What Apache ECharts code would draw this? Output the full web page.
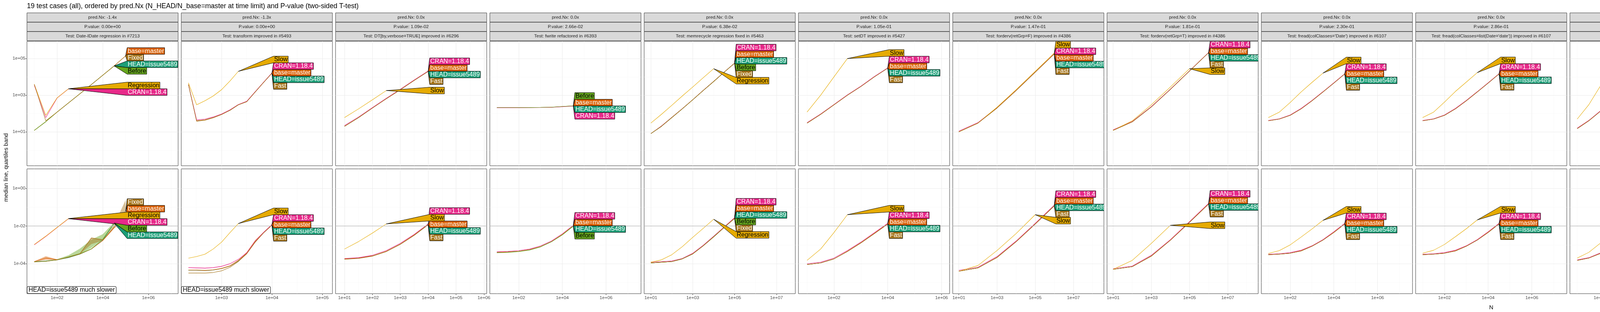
<!DOCTYPE html>
<html>
<head>
<meta charset="utf-8">
<title>atime test cases</title>
<script src="https://cdn.jsdelivr.net/npm/echarts@6.0.0/dist/echarts.min.js"></script>
<style>
html, body { margin: 0; padding: 0; background: #fff; }
#container { width: 7600px; height: 800px; }
</style>
</head>
<body>
<div id="container"></div>
<script>
var chartTitle = '19 test cases (all), ordered by pred.Nx (N_HEAD/N_base=master at time limit) and P-value (two-sided T-test)';
var yAxisTitle = 'median line, quartiles band';
var xAxisTitle = 'N';
var unitNames = ['kilobytes', 'seconds'];
var slowNote = 'HEAD=issue5489 much slower';
var slowPanels = [0, 1];

var testNames = [
  'Date-IDate regression in #7213', 'transform improved in #5493', 'DT[by,verbose=TRUE] improved in #6296',
  'fwrite refactored in #6393', 'memrecycle regression fixed in #5463', 'setDT improved in #5427',
  'forderv(retGrp=F) improved in #4386', 'forderv(retGrp=T) improved in #4386',
  "fread(colClasses='Date') improved in #6107", "fread(colClasses=list(Date='date')) improved in #6107",
  'melt improved in #5054', 'DT[by] max regression fixed in #7022', 'DT[by] fixed in #4558',
  'DT[,.SD] improved in #4501', 'as.data.table.array improved in #7019', 'shallow regression fixed in #4440',
  "fread(select=list(Date='date')) improved in #6107", 'isoweek improved in #7144', 'fread disk overhead improved in #6925'
];
var predNx = ['-1.4x', '-1.3x', '0.0x', '0.0x', '0.0x', '0.0x', '0.0x', '0.0x', '0.0x', '0.0x',
  '0.0x', '0.0x', '0.0x', '0.0x', '0.0x', '0.0x', '0.0x', '0.0x', '0.0x'];
var pValues = ['0.00e+00', '0.00e+00', '1.09e-02', '2.66e-02', '6.38e-02', '1.05e-01', '1.47e-01',
  '1.81e-01', '2.30e-01', '2.86e-01', '3.31e-01', '3.89e-01', '4.35e-01', '5.03e-01', '5.71e-01',
  '6.42e-01', '7.26e-01', '8.20e-01', '9.47e-01'];

var versionNames = ['HEAD=issue5489', 'base=master', 'CRAN=1.18.4', 'Before', 'Regression', 'Fixed', 'Slow', 'Fast'];
var versionColors = ['#1B9E77', '#D95F02', '#E7298A', '#66A61E', '#E6AB02', '#A6761D', '#E6AB02', '#A6761D'];
var versionTextColors = ['#FFFFFF', '#FFFFFF', '#FFFFFF', '#000000', '#000000', '#FFFFFF', '#000000', '#FFFFFF'];

// log10 axis ranges (already expanded like ggplot)
var yLimKb = [-0.85, 5.94];
var yLimSec = [-5.59, 1.035];
var timeLimit = 0.01;
var xLim = [[0.68, 7.30], [2.2, 5.2], [0.68, 6.1], [0.68, 7.6], [0.68, 7.9], [0.68, 6.3], [0.68, 8.6], [0.68, 8.6],
  [0.68, 7.6], [0.68, 7.6], [0.68, 7.3], [0.68, 7.9], [0.68, 7.9], [0.68, 7.3], [0.68, 7.3], [0.68, 8.2],
  [0.68, 7.6], [0.68, 7.6], [0.68, 7.3]];

var VH = ['HEAD=issue5489', 'base=master', 'CRAN=1.18.4'];
var verImproved = VH.concat(['Slow', 'Fast']);
var verRegression = VH.concat(['Before', 'Regression', 'Fixed']);

// ---- panel 1: Date-IDate regression in #7213
var n01 = [10, 32, 100, 316, 1000, 3162, 10000, 31623, 100000];
var ver01 = ['HEAD=issue5489', 'base=master', 'CRAN=1.18.4', 'Before', 'Regression', 'Fixed'];
var kb01 = [
  [12, 36, 120, 380, 1200, 3800, 12300, 40000, null],
  [12, 36, 120, 380, 1200, 3800, 12300, 40000, 140000],
  [3500, 60, 700, 2230, null, null, null, null, null],
  [12, 36, 120, 380, 1200, 3800, 12300, 39500, null],
  [4000, 80, 720, 2250, null, null, null, null, null],
  [4000, 40, 120, 380, 1200, 3800, 12300, 40000, 139000]
];
var sec01 = [
  [1.3e-4, 1.4e-4, 1.6e-4, 2.1e-4, 3.2e-4, 6.0e-4, 1.8e-3, 1.40e-2, null],
  [1.3e-4, 2.0e-4, 1.65e-4, 2.2e-4, 3.3e-4, 6.0e-4, 1.7e-3, 8.0e-3, 3.0e-2],
  [1.0e-3, 2.8e-3, 8.3e-3, 2.45e-2, null, null, null, null, null],
  [1.25e-4, 1.35e-4, 1.6e-4, 2.3e-4, 3.4e-4, 6.2e-4, 2.0e-3, 1.45e-2, null],
  [1.05e-3, 2.9e-3, 8.5e-3, 2.5e-2, null, null, null, null, null],
  [1.25e-4, 1.35e-4, 1.6e-4, 2.2e-4, 3.3e-4, 2.3e-3, 1.8e-3, 9.0e-3, 6.0e-2]
];
var band01 = [
  ['Before', [1.2e-4, 1.3e-4, 1.55e-4, 2.2e-4, 3.3e-4, 7e-4, 2.0e-3, 1.2e-2], [1.3e-4, 1.45e-4, 1.75e-4, 2.8e-4, 6.3e-4, 1.9e-3, 3.7e-3, 1.6e-2]],
  ['Fixed', [1.25e-4, 1.35e-4, 1.6e-4, 2.2e-4, 3.3e-4, 1.1e-3, 1.7e-3, 8e-3, 2.0e-2], [1.3e-4, 1.4e-4, 1.65e-4, 2.4e-4, 3.6e-4, 2.5e-3, 2.0e-3, 1.2e-2, 0.24]],
  ['base=master', [1.25e-4, 1.6e-4, 1.6e-4], [1.35e-4, 2.5e-4, 1.7e-4]]
];

// ---- panel 2: transform improved in #5493
var n02 = [220, 320, 470, 680, 1000, 1470, 2150, 3160, 4640, 6810, 10000];
var ver02 = verImproved;
var kb02 = [
  [3800, 40, 45, 60, 90, 150, 300, 450, 1500, 5000, 16000],
  [3800, 40, 45, 60, 90, 150, 300, 450, 1500, 5000, 16200],
  [3900, 45, 50, 65, 95, 160, 310, 470, 1550, 5100, 16500],
  [4700, 300, 500, 900, 2000, 6000, 20000, null, null, null, null],
  [3800, 38, 43, 58, 88, 150, 300, 440, 1480, 4900, 15800]
];
var sec02 = [
  [4.5e-5, 4.5e-5, 4.3e-5, 4.6e-5, 5.5e-5, 7.5e-5, 1.4e-4, 3.5e-4, 1.5e-3, 4.4e-3, 1.15e-2],
  [4.6e-5, 4.6e-5, 4.4e-5, 4.7e-5, 5.6e-5, 7.6e-5, 1.45e-4, 3.6e-4, 1.5e-3, 4.5e-3, 1.17e-2],
  [6.2e-5, 6.0e-5, 5.8e-5, 6.2e-5, 7.2e-5, 1.0e-4, 1.7e-4, 3.8e-4, 1.6e-3, 4.6e-3, 1.2e-2],
  [1.96e-4, 2.4e-4, 3.2e-4, 6.0e-4, 1.4e-3, 4.5e-3, 1.35e-2, null, null, null, null],
  [3.2e-5, 3.2e-5, 3.2e-5, 3.4e-5, 4.2e-5, 6.5e-5, 1.3e-4, 3.4e-4, 1.4e-3, 4.3e-3, 1.1e-2]
];
var band02 = [
  ['base=master', [4.4e-5, 4.4e-5, 4.2e-5, 4.5e-5, 5.3e-5, 7.2e-5, 1.3e-4, 3.2e-4, 1.3e-3, 4.2e-3, 1.1e-2], [4.8e-5, 4.8e-5, 4.6e-5, 4.9e-5, 5.9e-5, 8.2e-5, 1.6e-4, 4.2e-4, 1.8e-3, 4.8e-3, 1.25e-2]],
  ['CRAN=1.18.4', [6.0e-5, 5.8e-5, 5.6e-5, 6.0e-5, 7.0e-5, 9.6e-5], [6.5e-5, 6.3e-5, 6.1e-5, 6.5e-5, 7.6e-5, 1.05e-4]]
];

// ---- panel 3: DT[by,verbose=TRUE] improved in #6296
var n03 = [10, 32, 100, 316, 1000, 3162, 10000];
var ver03 = verImproved;
var kb03 = [
  [20, 60, 200, 650, 2000, 6500, 20000],
  [20, 60, 200, 650, 2000, 6500, 20500],
  [22, 65, 210, 680, 2100, 6800, 21000],
  [60, 180, 560, 1800, null, null, null],
  [20, 60, 198, 640, 1980, 6400, 19800]
];
var sec03 = [
  [1.8e-4, 2.0e-4, 2.6e-4, 4.5e-4, 1.1e-3, 3.3e-3, 1.2e-2],
  [1.8e-4, 2.0e-4, 2.6e-4, 4.6e-4, 1.1e-3, 3.4e-3, 1.25e-2],
  [1.9e-4, 2.1e-4, 2.8e-4, 5.0e-4, 1.2e-3, 3.6e-3, 1.3e-2],
  [6.0e-4, 1.5e-3, 4.2e-3, 1.3e-2, null, null, null],
  [1.7e-4, 1.9e-4, 2.5e-4, 4.4e-4, 1.05e-3, 3.2e-3, 1.15e-2]
];

// ---- panel 4: fwrite refactored in #6393
var n04 = [10, 32, 100, 316, 1000, 3162, 10000, 31623];
var ver04 = VH.concat(['Before']);
var kb04 = [
  [210, 210, 210, 212, 215, 220, 240, 260],
  [210, 210, 210, 212, 215, 221, 241, 262],
  [205, 206, 207, 209, 212, 218, 236, 255],
  [212, 212, 213, 214, 217, 223, 243, 265]
];
var sec04 = [
  [4.0e-4, 4.2e-4, 4.6e-4, 5.5e-4, 8.0e-4, 1.5e-3, 3.5e-3, 1.0e-2],
  [4.0e-4, 4.2e-4, 4.6e-4, 5.6e-4, 8.1e-4, 1.5e-3, 3.6e-3, 1.05e-2],
  [4.3e-4, 4.5e-4, 5.0e-4, 6.0e-4, 8.8e-4, 1.6e-3, 3.9e-3, 1.1e-2],
  [3.8e-4, 4.0e-4, 4.4e-4, 5.3e-4, 7.8e-4, 1.45e-3, 3.4e-3, 9.8e-3]
];

// ---- panel 5: memrecycle regression fixed in #5463
var n05 = [10, 32, 100, 316, 1000, 3162, 10000, 31623, 100000];
var ver05 = verRegression;
var kb05 = [
  [8, 20, 60, 180, 560, 1800, 5600, 18000, 56000],
  [8, 20, 60, 180, 560, 1800, 5600, 18000, 56500],
  [8, 21, 62, 185, 570, 1850, 5700, 18300, 57000],
  [8, 20, 60, 180, 560, 1800, 5600, 18000, 55500],
  [30, 90, 280, 900, 2800, 9000, 28000, null, null],
  [8, 20, 60, 180, 560, 1800, 5600, 18000, 55000]
];
var sec05 = [
  [1.1e-4, 1.2e-4, 1.3e-4, 1.8e-4, 3.3e-4, 9.0e-4, 2.7e-3, 8.5e-3, 2.6e-2],
  [1.1e-4, 1.2e-4, 1.3e-4, 1.8e-4, 3.4e-4, 9.1e-4, 2.8e-3, 8.6e-3, 2.7e-2],
  [1.2e-4, 1.3e-4, 1.4e-4, 1.9e-4, 3.6e-4, 9.5e-4, 2.9e-3, 9.0e-3, 2.8e-2],
  [1.1e-4, 1.2e-4, 1.3e-4, 1.8e-4, 3.3e-4, 8.9e-4, 2.7e-3, 8.4e-3, 2.55e-2],
  [1.2e-4, 1.6e-4, 3.0e-4, 8.0e-4, 2.5e-3, 7.5e-3, 2.3e-2, null, null],
  [1.1e-4, 1.2e-4, 1.3e-4, 1.8e-4, 3.3e-4, 8.8e-4, 2.6e-3, 8.3e-3, 2.5e-2]
];

// ---- panel 6: setDT improved in #5427
var n06 = [10, 32, 100, 316, 1000, 3162, 10000];
var ver06 = verImproved;
var kb06 = [
  [30, 90, 300, 1000, 3000, 10000, 30000],
  [30, 90, 300, 1000, 3000, 10000, 30500],
  [32, 95, 310, 1050, 3100, 10500, 31000],
  [120, 1000, 10000, 100000, null, null, null],
  [30, 90, 300, 990, 2980, 9900, 29800]
];
var sec06 = [
  [9e-5, 1.1e-4, 1.8e-4, 4.5e-4, 1.3e-3, 4.0e-3, 1.3e-2],
  [9e-5, 1.1e-4, 1.8e-4, 4.6e-4, 1.3e-3, 4.1e-3, 1.35e-2],
  [1.0e-4, 1.2e-4, 2.0e-4, 5.0e-4, 1.4e-3, 4.4e-3, 1.4e-2],
  [1.5e-4, 6.0e-4, 4.5e-3, 4.0e-2, null, null, null],
  [9e-5, 1.1e-4, 1.8e-4, 4.4e-4, 1.25e-3, 3.9e-3, 1.25e-2]
];

// ---- panel 7: forderv(retGrp=F) improved in #4386
var n07 = [10, 100, 1000, 10000, 100000, 1000000];
var ver07 = verImproved;
var kb07 = [
  [10, 30, 200, 1800, 18000, 180000],
  [10, 30, 200, 1800, 18000, 181000],
  [11, 32, 210, 1850, 18500, 185000],
  [10, 30, 220, 2000, 20000, 200000],
  [10, 30, 200, 1790, 17900, 179000]
];
var sec07 = [
  [4e-5, 6e-5, 2.2e-4, 1.5e-3, 1.3e-2, 1.2e-1],
  [4e-5, 6e-5, 2.2e-4, 1.5e-3, 1.35e-2, 1.25e-1],
  [4.5e-5, 6.5e-5, 2.4e-4, 1.6e-3, 1.4e-2, 1.3e-1],
  [4e-5, 8e-5, 5e-4, 4e-3, 4e-2, null],
  [4e-5, 6e-5, 2.1e-4, 1.45e-3, 1.25e-2, 1.15e-1]
];

// ---- panel 8: forderv(retGrp=T) improved in #4386
var n08 = [10, 100, 1000, 10000, 100000, 1000000];
var ver08 = verImproved;
var kb08 = [
  [12, 35, 230, 2100, 21000, 210000],
  [12, 35, 230, 2100, 21000, 212000],
  [13, 37, 240, 2150, 21500, 215000],
  [12, 40, 300, 2800, 28000, null],
  [12, 35, 228, 2090, 20900, 209000]
];
var sec08 = [
  [5e-5, 7e-5, 2.6e-4, 1.8e-3, 1.6e-2, 1.5e-1],
  [5e-5, 7e-5, 2.6e-4, 1.8e-3, 1.65e-2, 1.55e-1],
  [5.5e-5, 7.5e-5, 2.8e-4, 1.9e-3, 1.7e-2, 1.6e-1],
  [5e-5, 1.5e-4, 1.2e-3, 1.1e-2, null, null],
  [5e-5, 7e-5, 2.5e-4, 1.75e-3, 1.55e-2, 1.45e-1]
];

// ---- panel 9: fread(colClasses='Date') improved in #6107
var n09 = [10, 32, 100, 316, 1000, 3162, 10000, 31623];
var ver09 = verImproved;
var kb09 = [
  [40, 50, 80, 180, 500, 1500, 4600, 14500],
  [40, 50, 80, 180, 500, 1500, 4650, 14700],
  [42, 52, 84, 190, 520, 1560, 4800, 15000],
  [60, 120, 400, 1500, 5000, 16000, null, null],
  [40, 50, 80, 178, 495, 1490, 4580, 14400]
];
var sec09 = [
  [3e-4, 3.2e-4, 3.6e-4, 4.8e-4, 8.5e-4, 1.8e-3, 4.6e-3, 1.3e-2],
  [3e-4, 3.2e-4, 3.6e-4, 4.9e-4, 8.6e-4, 1.85e-3, 4.7e-3, 1.35e-2],
  [3.2e-4, 3.4e-4, 3.9e-4, 5.2e-4, 9.0e-4, 1.9e-3, 5.0e-3, 1.4e-2],
  [3.5e-4, 5.0e-4, 1.0e-3, 2.6e-3, 7.0e-3, 2.0e-2, null, null],
  [3e-4, 3.2e-4, 3.6e-4, 4.7e-4, 8.4e-4, 1.78e-3, 4.5e-3, 1.28e-2]
];

// ---- panel 10: fread(colClasses=list(Date='date')) improved in #6107
var n10 = [10, 32, 100, 316, 1000, 3162, 10000, 31623];
var ver10 = verImproved;
var kb10 = [
  [40, 50, 80, 180, 500, 1500, 4600, 14500],
  [40, 50, 80, 180, 500, 1500, 4650, 14700],
  [42, 52, 84, 190, 520, 1560, 4800, 15000],
  [60, 120, 420, 1600, 5200, 17000, null, null],
  [40, 50, 80, 178, 495, 1490, 4580, 14400]
];
var sec10 = [
  [3e-4, 3.2e-4, 3.6e-4, 4.8e-4, 8.5e-4, 1.8e-3, 4.6e-3, 1.3e-2],
  [3e-4, 3.2e-4, 3.6e-4, 4.9e-4, 8.6e-4, 1.85e-3, 4.7e-3, 1.35e-2],
  [3.2e-4, 3.4e-4, 3.9e-4, 5.2e-4, 9.0e-4, 1.9e-3, 5.0e-3, 1.4e-2],
  [3.6e-4, 5.2e-4, 1.05e-3, 2.7e-3, 7.2e-3, 2.1e-2, null, null],
  [3e-4, 3.2e-4, 3.6e-4, 4.7e-4, 8.4e-4, 1.78e-3, 4.5e-3, 1.28e-2]
];

// ---- panel 11: melt improved in #5054
var n11 = [10, 32, 100, 316, 1000, 3162, 10000];
var ver11 = verImproved;
var kb11 = [
  [15, 40, 130, 400, 1300, 4000, 13000],
  [15, 40, 130, 400, 1300, 4000, 13200],
  [16, 42, 135, 410, 1330, 4100, 13500],
  [50, 300, 3000, 30000, 150000, null, null],
  [15, 40, 128, 395, 1290, 3980, 12900]
];
var sec11 = [
  [1.5e-4, 2.0e-4, 3.5e-4, 8.0e-4, 2.0e-3, 5.0e-3, 1.4e-2],
  [1.5e-4, 2.0e-4, 3.5e-4, 8.1e-4, 2.0e-3, 5.1e-3, 1.45e-2],
  [1.6e-4, 2.1e-4, 3.7e-4, 8.5e-4, 2.1e-3, 5.4e-3, 1.5e-2],
  [2.0e-4, 4.0e-4, 1.2e-3, 4.5e-3, 1.6e-2, null, null],
  [1.5e-4, 2.0e-4, 3.4e-4, 7.9e-4, 1.95e-3, 4.9e-3, 1.35e-2]
];

// ---- panel 12: DT[by] max regression fixed
var n12 = [10, 32, 100, 316, 1000, 3162, 10000, 31623, 100000];
var ver12 = verRegression;
var kb12 = [
  [10, 25, 70, 210, 650, 2000, 6500, 20000, 65000],
  [10, 25, 70, 210, 650, 2000, 6500, 20000, 65500],
  [11, 26, 72, 215, 660, 2050, 6600, 20500, 66000],
  [10, 25, 70, 210, 650, 2000, 6500, 20000, 64500],
  [12, 40, 140, 450, 1400, 4500, 14000, 45000, null],
  [10, 25, 70, 210, 650, 2000, 6500, 20000, 64000]
];
var sec12 = [
  [1.2e-4, 1.3e-4, 1.6e-4, 2.5e-4, 5.0e-4, 1.3e-3, 3.5e-3, 1.1e-2, 3.4e-2],
  [1.2e-4, 1.3e-4, 1.6e-4, 2.5e-4, 5.1e-4, 1.3e-3, 3.6e-3, 1.12e-2, 3.5e-2],
  [1.3e-4, 1.4e-4, 1.7e-4, 2.7e-4, 5.4e-4, 1.4e-3, 3.8e-3, 1.2e-2, 3.7e-2],
  [1.2e-4, 1.3e-4, 1.6e-4, 2.5e-4, 4.9e-4, 1.28e-3, 3.4e-3, 1.08e-2, 3.3e-2],
  [1.3e-4, 1.6e-4, 2.6e-4, 5.8e-4, 1.6e-3, 4.6e-3, 1.4e-2, 4.3e-2, null],
  [1.2e-4, 1.3e-4, 1.6e-4, 2.5e-4, 4.9e-4, 1.27e-3, 3.4e-3, 1.07e-2, 3.25e-2]
];

// ---- panel 13: DT[by] fixed in #4558
var n13 = [10, 32, 100, 316, 1000, 3162, 10000, 31623, 100000];
var ver13 = verRegression;
var kb13 = [
  [12, 30, 85, 260, 800, 2500, 8000, 25000, 80000],
  [12, 30, 85, 260, 800, 2500, 8000, 25000, 80500],
  [13, 31, 88, 265, 820, 2550, 8100, 25500, 81000],
  [12, 30, 85, 260, 800, 2500, 8000, 25000, 79500],
  [12, 30, 90, 300, 1000, 3500, 12000, 40000, null],
  [12, 30, 85, 260, 800, 2500, 8000, 25000, 79000]
];
var sec13 = [
  [1.4e-4, 1.6e-4, 2.0e-4, 3.2e-4, 6.5e-4, 1.6e-3, 4.5e-3, 1.4e-2, 4.2e-2],
  [1.4e-4, 1.6e-4, 2.0e-4, 3.2e-4, 6.6e-4, 1.65e-3, 4.6e-3, 1.45e-2, 4.3e-2],
  [1.5e-4, 1.7e-4, 2.1e-4, 3.4e-4, 7.0e-4, 1.7e-3, 4.8e-3, 1.5e-2, 4.5e-2],
  [1.4e-4, 1.6e-4, 2.0e-4, 3.1e-4, 6.4e-4, 1.58e-3, 4.4e-3, 1.38e-2, 4.1e-2],
  [1.4e-4, 1.8e-4, 3.2e-4, 8.0e-4, 2.5e-3, 8.0e-3, 2.6e-2, 8.0e-2, null],
  [1.4e-4, 1.6e-4, 2.0e-4, 3.1e-4, 6.3e-4, 1.57e-3, 4.35e-3, 1.37e-2, 4.05e-2]
];

// ---- panel 14: DT[,.SD] improved in #4501
var n14 = [10, 32, 100, 316, 1000, 3162, 10000];
var ver14 = verImproved;
var kb14 = [
  [15, 40, 120, 380, 1200, 3800, 12000],
  [15, 40, 120, 380, 1200, 3800, 12200],
  [16, 42, 125, 390, 1230, 3900, 12500],
  [40, 150, 600, 2500, 10000, 40000, null],
  [15, 40, 118, 375, 1190, 3780, 11900]
];
var sec14 = [
  [1.5e-4, 2.0e-4, 3.8e-4, 9.0e-4, 2.5e-3, 7.0e-3, 2.0e-2],
  [1.5e-4, 2.0e-4, 3.8e-4, 9.1e-4, 2.6e-3, 7.2e-3, 2.05e-2],
  [1.6e-4, 2.1e-4, 4.0e-4, 9.5e-4, 2.7e-3, 7.5e-3, 2.1e-2],
  [2.0e-4, 4.5e-4, 1.3e-3, 4.0e-3, 1.2e-2, 3.6e-2, null],
  [1.5e-4, 2.0e-4, 3.7e-4, 8.9e-4, 2.45e-3, 6.9e-3, 1.95e-2]
];

// ---- panel 15: as.data.table.array improved in #7019
var n15 = [10, 32, 100, 316, 1000, 3162];
var ver15 = verImproved;
var kb15 = [
  [20, 70, 250, 900, 3000, 10000],
  [20, 70, 250, 900, 3000, 10200],
  [21, 72, 260, 920, 3100, 10400],
  [30, 120, 600, 3000, 15000, null],
  [20, 70, 248, 895, 2990, 9950]
];
var sec15 = [
  [3.0e-4, 6.0e-4, 1.5e-3, 4.0e-3, 1.1e-2, 3.2e-2],
  [3.0e-4, 6.0e-4, 1.5e-3, 4.1e-3, 1.12e-2, 3.3e-2],
  [3.2e-4, 6.4e-4, 1.6e-3, 4.3e-3, 1.2e-2, 3.5e-2],
  [8.0e-4, 3.0e-3, 1.2e-2, 5.0e-2, 2.0e-1, null],
  [3.0e-4, 5.9e-4, 1.48e-3, 3.95e-3, 1.08e-2, 3.1e-2]
];

// ---- panel 16: shallow regression fixed in #4440
var n16 = [10, 32, 100, 316, 1000, 3162, 10000, 31623, 100000, 316228];
var ver16 = verRegression;
var kb16 = [
  [5, 8, 15, 40, 120, 380, 1200, 3800, 12000, 38000],
  [5, 8, 15, 40, 120, 380, 1200, 3800, 12000, 38500],
  [5, 8, 16, 41, 125, 390, 1230, 3900, 12300, 39000],
  [5, 8, 15, 40, 120, 380, 1200, 3800, 12000, 37500],
  [20, 100, 800, 8000, 80000, 300000, null, null, null, null],
  [5, 8, 15, 40, 120, 380, 1200, 3800, 12000, 37000]
];
var sec16 = [
  [2.0e-5, 2.1e-5, 2.3e-5, 3.0e-5, 5.0e-5, 1.2e-4, 3.5e-4, 1.1e-3, 3.5e-3, 1.2e-2],
  [2.0e-5, 2.1e-5, 2.3e-5, 3.0e-5, 5.1e-5, 1.22e-4, 3.6e-4, 1.12e-3, 3.6e-3, 1.22e-2],
  [2.2e-5, 2.3e-5, 2.5e-5, 3.2e-5, 5.4e-5, 1.3e-4, 3.8e-4, 1.2e-3, 3.8e-3, 1.3e-2],
  [2.0e-5, 2.1e-5, 2.3e-5, 3.0e-5, 4.9e-5, 1.19e-4, 3.45e-4, 1.08e-3, 3.45e-3, 1.18e-2],
  [3.0e-5, 8.0e-5, 4.0e-4, 3.0e-3, 2.5e-2, 1.5e-1, null, null, null, null],
  [2.0e-5, 2.1e-5, 2.3e-5, 3.0e-5, 4.9e-5, 1.18e-4, 3.4e-4, 1.07e-3, 3.4e-3, 1.17e-2]
];

// ---- panel 17: fread(select=list(Date='date')) improved in #6107
var n17 = [10, 32, 100, 316, 1000, 3162, 10000, 31623];
var ver17 = verImproved;
var kb17 = [
  [40, 50, 80, 180, 500, 1500, 4600, 14500],
  [40, 50, 80, 180, 500, 1500, 4650, 14700],
  [42, 52, 84, 190, 520, 1560, 4800, 15000],
  [45, 60, 120, 400, 1300, 4000, 13000, null],
  [40, 50, 80, 178, 495, 1490, 4580, 14400]
];
var sec17 = [
  [3e-4, 3.2e-4, 3.6e-4, 4.8e-4, 8.5e-4, 1.8e-3, 4.6e-3, 1.3e-2],
  [3e-4, 3.2e-4, 3.6e-4, 4.9e-4, 8.6e-4, 1.85e-3, 4.7e-3, 1.35e-2],
  [3.2e-4, 3.4e-4, 3.9e-4, 5.2e-4, 9.0e-4, 1.9e-3, 5.0e-3, 1.4e-2],
  [3.3e-4, 4.0e-4, 6.0e-4, 1.2e-3, 3.0e-3, 8.0e-3, 2.3e-2, null],
  [3e-4, 3.2e-4, 3.6e-4, 4.7e-4, 8.4e-4, 1.78e-3, 4.5e-3, 1.28e-2]
];

// ---- panel 18: isoweek improved in #7144
var n18 = [10, 32, 100, 316, 1000, 3162, 10000, 31623];
var ver18 = verImproved;
var kb18 = [
  [6, 10, 25, 70, 220, 700, 2200, 7000],
  [6, 10, 25, 70, 220, 700, 2220, 7050],
  [6, 10, 26, 72, 225, 710, 2250, 7100],
  [20, 200, 2000, 20000, 200000, null, null, null],
  [6, 10, 25, 69, 218, 695, 2190, 6980]
];
var sec18 = [
  [4e-5, 5e-5, 8e-5, 1.8e-4, 5e-4, 1.5e-3, 4.5e-3, 1.4e-2],
  [4e-5, 5e-5, 8e-5, 1.8e-4, 5.1e-4, 1.52e-3, 4.6e-3, 1.42e-2],
  [4.5e-5, 5.5e-5, 8.5e-5, 1.9e-4, 5.3e-4, 1.6e-3, 4.8e-3, 1.5e-2],
  [3e-4, 1.0e-3, 3.5e-3, 1.2e-2, 4.0e-1, null, null, null],
  [4e-5, 5e-5, 7.9e-5, 1.78e-4, 4.95e-4, 1.48e-3, 4.4e-3, 1.38e-2]
];

// ---- panel 19: fread disk overhead improved in #6925
var n19 = [10, 32, 100, 316, 1000, 3162, 10000, 31623];
var ver19 = verImproved;
var kb19 = [
  [50, 60, 90, 200, 550, 1600, 5000, 16000],
  [50, 60, 90, 200, 550, 1600, 5050, 16200],
  [52, 62, 94, 210, 570, 1650, 5200, 16500],
  [60, 80, 150, 400, 1200, 3600, 11000, null],
  [50, 60, 90, 198, 545, 1590, 4980, 15900]
];
var sec19 = [
  [3.5e-4, 3.7e-4, 4.2e-4, 5.5e-4, 9.5e-4, 2.0e-3, 5.0e-3, 1.4e-2],
  [3.5e-4, 3.7e-4, 4.2e-4, 5.6e-4, 9.6e-4, 2.05e-3, 5.1e-3, 1.45e-2],
  [3.7e-4, 3.9e-4, 4.5e-4, 6.0e-4, 1.0e-3, 2.1e-3, 5.4e-3, 1.5e-2],
  [6.0e-4, 7.0e-4, 9.0e-4, 1.5e-3, 3.5e-3, 9.0e-3, 2.6e-2, null],
  [3.5e-4, 3.7e-4, 4.1e-4, 5.4e-4, 9.4e-4, 1.98e-3, 4.9e-3, 1.38e-2]
];

var panels = [
  [n01, ver01, kb01, sec01, band01], [n02, ver02, kb02, sec02, band02], [n03, ver03, kb03, sec03],
  [n04, ver04, kb04, sec04], [n05, ver05, kb05, sec05], [n06, ver06, kb06, sec06],
  [n07, ver07, kb07, sec07], [n08, ver08, kb08, sec08], [n09, ver09, kb09, sec09],
  [n10, ver10, kb10, sec10], [n11, ver11, kb11, sec11], [n12, ver12, kb12, sec12],
  [n13, ver13, kb13, sec13], [n14, ver14, kb14, sec14], [n15, ver15, kb15, sec15],
  [n16, ver16, kb16, sec16], [n17, ver17, kb17, sec17], [n18, ver18, kb18, sec18],
  [n19, ver19, kb19, sec19]
];

// ---------------- layout ----------------
var FONT = '"Liberation Sans", Arial, Helvetica, sans-serif';
var LEFT0 = 69, PITCH = 395, PW = 387;
var ROWS = [[106, 319], [433, 320]];
var STRIP_Y = [33, 57, 81], STRIP_H = 23.5;
var LABEL_H = 17, LABEL_FONT = 16;

var measureCtx = document.createElement('canvas').getContext('2d');
function textWidth(s) {
  measureCtx.font = LABEL_FONT + 'px ' + FONT;
  return measureCtx.measureText(s).width;
}
function pow10(e) { return Math.pow(10, e); }
function sci(v) {
  var e = Math.round(Math.log10(v));
  var a = Math.abs(e);
  return '1e' + (e < 0 ? '-' : '+') + (a < 10 ? '0' : '') + a;
}
// ggplot / scales::log_breaks on the unexpanded limits
function logBreaks(axLo, axHi) {
  var pad = (axHi - axLo) / 22;
  var lo = axLo + pad, hi = axHi - pad;
  var mn = Math.floor(lo + 1e-9), mx = Math.ceil(hi - 1e-9);
  var by = Math.floor((mx - mn) / 5) + 1;
  while (true) {
    var br = [], rel = 0;
    for (var e = mn; e <= mx; e += by) { br.push(e); if (e >= lo && e <= hi) rel++; }
    if (rel >= 3 || by === 1) return br;
    by--;
  }
}
function minorBreaks(br) {
  var out = [];
  var step = br.length > 1 ? br[1] - br[0] : 1;
  out.push(br[0] - step / 2);
  for (var i = 0; i < br.length; i++) out.push(br[i] + step / 2);
  return out;
}

function axisPair(dim, g, lim, showLabel, showTick) {
  var br = logBreaks(lim[0], lim[1]);
  var inside = function (e) { return e > lim[0] + 1e-6 && e < lim[1] - 1e-6; };
  var majors = br.filter(inside).map(pow10);
  var minors = minorBreaks(br).filter(inside).map(pow10);
  var base = { type: 'log', logBase: 10, gridIndex: g, min: pow10(lim[0]), max: pow10(lim[1]), axisLine: { show: false } };
  var major = Object.assign({}, base, {
    axisTick: { show: showTick, customValues: majors, length: 3.7, lineStyle: { color: '#333333', width: 1 } },
    axisLabel: {
      show: showLabel, customValues: majors, formatter: sci, fontSize: 11.7, fontFamily: FONT,
      color: '#4D4D4D', margin: dim === 'x' ? 5 : 4
    },
    splitLine: { show: true, lineStyle: { color: '#EBEBEB', width: 1.1 } },
    z: 1
  });
  var minor = Object.assign({}, base, {
    axisTick: { show: false, customValues: minors },
    axisLabel: { show: false, customValues: minors },
    splitLine: { show: true, lineStyle: { color: '#F5F5F5', width: 0.6 } },
    z: 0
  });
  return [major, minor];
}

function layoutBoxes(ys, h, top, bottom) {
  var order = ys.map(function (y, i) { return i; }).sort(function (a, b) { return ys[a] - ys[b] || a - b; });
  var groups = order.map(function (i) { return { m: [i], sum: ys[i] }; });
  function gTop(gr) { var c = gr.sum / gr.m.length; return Math.min(Math.max(c - gr.m.length * h / 2, top), bottom - gr.m.length * h); }
  var changed = true;
  while (changed) {
    changed = false;
    for (var k = 0; k < groups.length - 1; k++) {
      var a = groups[k], b = groups[k + 1];
      if (gTop(b) < gTop(a) + a.m.length * h - 0.01) {
        groups.splice(k, 2, { m: a.m.concat(b.m), sum: a.sum + b.sum });
        changed = true;
        break;
      }
    }
  }
  var centers = [];
  groups.forEach(function (gr) {
    var t = gTop(gr);
    gr.m.forEach(function (i, j) { centers[i] = t + h * j + h / 2; });
  });
  return centers;
}

var grids = [], xAxes = [], yAxes = [], series = [], graphics = [];

panels.forEach(function (pd, p) {
  var nArr = pd[0], ver = pd[1], rowData = [pd[2], pd[3]], bands = pd[4] || [];
  var left = LEFT0 + PITCH * p;
  var maxN = 0;
  rowData.forEach(function (rows) {
    rows.forEach(function (vals) { vals.forEach(function (v, i) { if (v != null && nArr[i] > maxN) maxN = nArr[i]; }); });
  });

  for (var r = 0; r < 2; r++) {
    var g = grids.length;
    grids.push({
      left: left, top: ROWS[r][0], width: PW, height: ROWS[r][1],
      show: true, borderColor: '#333333', borderWidth: 1, backgroundColor: '#FFFFFF'
    });
    var xs = axisPair('x', g, xLim[p], r === 1, r === 1);
    var ys = axisPair('y', g, r === 0 ? yLimKb : yLimSec, p === 0, p === 0);
    var ax = xAxes.length, ay = yAxes.length;
    xAxes.push(xs[0], xs[1]);
    yAxes.push(ys[0], ys[1]);

    if (r === 1) {
      bands.forEach(function (bd) {
        var vi = versionNames.indexOf(bd[0]);
        var lo = bd[1], hi = bd[2], segs = [];
        for (var i = 0; i + 1 < lo.length; i++) segs.push([nArr[i], lo[i], hi[i], nArr[i + 1], lo[i + 1], hi[i + 1]]);
        series.push({
          type: 'custom', xAxisIndex: ax, yAxisIndex: ay, silent: true, z: 2, clip: true,
          encode: { x: [0, 3], y: [1, 2, 4, 5] },
          data: segs,
          renderItem: function (params, api) {
            var a = api.coord([api.value(0), api.value(1)]), b = api.coord([api.value(3), api.value(4)]);
            var c = api.coord([api.value(3), api.value(5)]), d = api.coord([api.value(0), api.value(2)]);
            return { type: 'polygon', shape: { points: [a, b, c, d] }, style: { fill: versionColors[vi], opacity: 0.45 } };
          }
        });
      });
    }

    var items = [];
    rowData[r].forEach(function (vals, k) {
      var vi = versionNames.indexOf(ver[k]);
      var pts = [], last = null;
      vals.forEach(function (v, i) { if (v != null) { pts.push([nArr[i], v]); last = [nArr[i], v]; } });
      var s = {
        type: 'line', name: ver[k], xAxisIndex: ax, yAxisIndex: ay, data: pts, showSymbol: false, symbol: 'none',
        lineStyle: { color: versionColors[vi], width: 1.1 }, itemStyle: { color: versionColors[vi] }, z: 3, silent: true
      };
      if (r === 1 && k === 0) {
        s.markLine = {
          silent: true, symbol: 'none', label: { show: false }, animation: false,
          lineStyle: { color: '#BEBEBE', width: 1.4, type: 'solid' }, data: [{ yAxis: timeLimit }]
        };
      }
      series.push(s);
      if (last) items.push({ n: last[0], v: last[1], name: ver[k], color: versionColors[vi], text: versionTextColors[vi] });
    });

    (function (items, maxN) {
      series.push({
        type: 'custom', xAxisIndex: ax, yAxisIndex: ay, silent: true, z: 6, clip: true,
        encode: { x: 0, y: 1 },
        data: items.map(function (it) { return [it.n, it.v]; }),
        renderItem: function (params, api) {
          var cs = params.coordSys;
          var pts = items.map(function (it) { return api.coord([it.n, it.v]); });
          var bx = api.coord([maxN, items[0].v])[0] + 4;
          var cy = layoutBoxes(pts.map(function (q) { return q[1]; }), LABEL_H, cs.y, cs.y + cs.height);
          var i = params.dataIndex, it = items[i];
          var t = cy[i] - LABEL_H / 2, b = cy[i] + LABEL_H / 2, w = textWidth(it.name) + 3;
          return {
            type: 'group', children: [
              { type: 'polygon', shape: { points: [pts[i], [bx, t], [bx + w, t], [bx + w, b], [bx, b]] }, style: { fill: it.color, stroke: '#000000', lineWidth: 1 } },
              { type: 'text', style: { x: bx + 1.5, y: cy[i] + 0.5, text: it.name, fill: it.text, fontSize: LABEL_FONT, fontFamily: FONT, verticalAlign: 'middle', align: 'left' } }
            ]
          };
        }
      });
    })(items, maxN);

    if (r === 1 && slowPanels.indexOf(p) >= 0) {
      graphics.push({
        type: 'text', x: left + 1, y: ROWS[1][0] + ROWS[1][1] - 1, z: 100,
        style: {
          text: slowNote, fontSize: 16, fontFamily: FONT, fill: '#000000', align: 'left', verticalAlign: 'bottom',
          backgroundColor: '#FFFFFF', borderColor: '#000000', borderWidth: 1, borderRadius: 3, padding: [1, 3, 0, 3]
        }
      });
    }
  }

  // strips
  var stripTexts = ['pred.Nx: ' + predNx[p], 'P.value: ' + pValues[p], 'Test: ' + testNames[p]];
  stripTexts.forEach(function (txt, j) {
    graphics.push({ type: 'rect', shape: { x: left, y: STRIP_Y[j], width: PW, height: STRIP_H }, style: { fill: '#D9D9D9', stroke: '#333333', lineWidth: 1 } });
    graphics.push({ type: 'text', x: left + PW / 2, y: STRIP_Y[j] + STRIP_H / 2, style: { text: txt, fontSize: 11.7, fontFamily: FONT, fill: '#1A1A1A', align: 'center', verticalAlign: 'middle' } });
  });
});

// right-side unit strips
var RSX = LEFT0 + PITCH * 18 + PW + 4;
unitNames.forEach(function (u, r) {
  graphics.push({ type: 'rect', shape: { x: RSX, y: ROWS[r][0], width: 21, height: ROWS[r][1] }, style: { fill: '#D9D9D9', stroke: '#333333', lineWidth: 1 } });
  graphics.push({ type: 'text', x: RSX + 10.5, y: ROWS[r][0] + ROWS[r][1] / 2, rotation: -Math.PI / 2, style: { text: u, fontSize: 11.7, fontFamily: FONT, fill: '#1A1A1A', align: 'center', verticalAlign: 'middle' } });
});
graphics.push({ type: 'text', x: 69, y: 16, style: { text: chartTitle, fontSize: 17.6, fontFamily: FONT, fill: '#000000', align: 'left', verticalAlign: 'middle' } });
graphics.push({ type: 'text', x: 16, y: (ROWS[0][0] + ROWS[1][0] + ROWS[1][1]) / 2, rotation: Math.PI / 2, style: { text: yAxisTitle, fontSize: 14.7, fontFamily: FONT, fill: '#000000', align: 'center', verticalAlign: 'middle' } });
graphics.push({ type: 'text', x: (LEFT0 + LEFT0 + PITCH * 18 + PW) / 2, y: 789, style: { text: xAxisTitle, fontSize: 14.7, fontFamily: FONT, fill: '#000000', align: 'center', verticalAlign: 'middle' } });

var dom = document.getElementById('container');
var myChart = echarts.init(dom, null, { renderer: 'canvas' });
var option = {
  backgroundColor: '#FFFFFF',
  animation: false,
  grid: grids,
  xAxis: xAxes,
  yAxis: yAxes,
  series: series,
  graphic: graphics
};
myChart.setOption(option);
</script>
</body>
</html>
